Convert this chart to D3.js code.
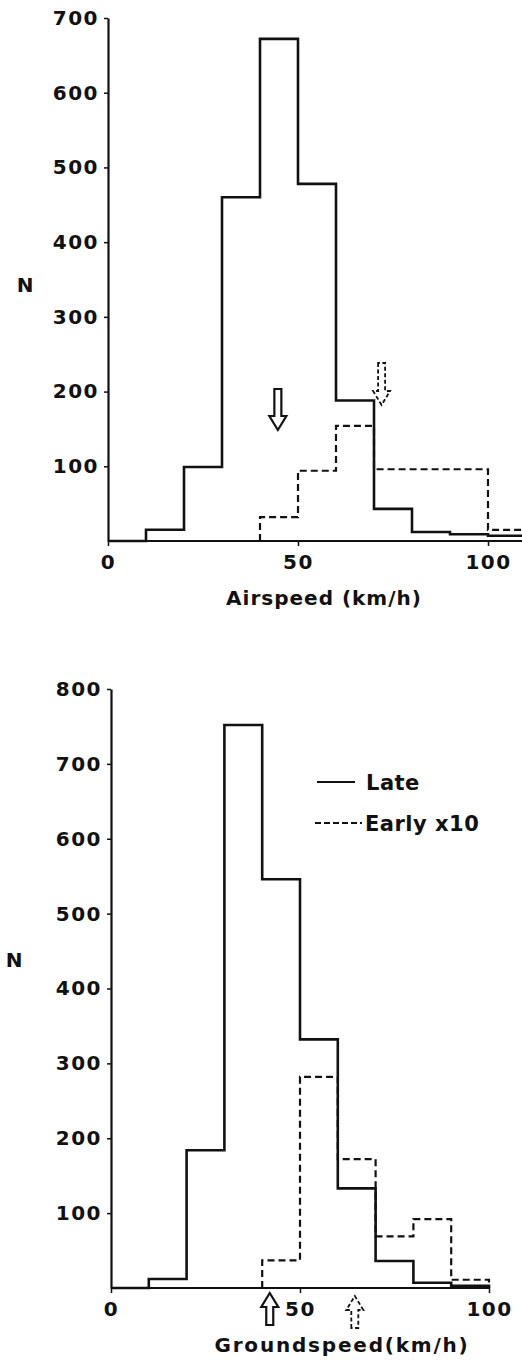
<!DOCTYPE html>
<html>
<head>
<meta charset="utf-8">
<script src="https://cdn.jsdelivr.net/npm/d3@7"></script>
<style>
  body { margin: 0; background: #fff; }
  svg text { font-family: "DejaVu Sans", sans-serif; font-weight: bold; fill: #111; }
</style>
</head>
<body>
<div id="chart"></div>
<script>
// Histograms of airspeed and groundspeed, late vs early (x10)

// --- data ---
const airEdges = [0, 10, 20, 30, 40, 50, 60, 70, 80, 90, 100, 110];
const airLate = [0, 15, 99, 460, 672, 478, 188, 43, 12, 9, 7];
const airEarlyEdges = [40, 50, 60, 70, 80, 90, 100, 110];
const airEarly = [32, 94, 154, 96, 96, 96, 15];
const airArrows = [44.7, 72]; // late mean, early mean

const gndEdges = [0, 10, 20, 30, 40, 50, 60, 70, 80, 90, 100];
const gndLate = [0, 12, 184, 752, 546, 332, 133, 36, 7, 3];
const gndEarlyEdges = [40, 50, 60, 70, 80, 90, 100];
const gndEarly = [37, 282, 172, 69, 92, 11];
const gndArrows = [42, 64.5];

const airYTicks = [100, 200, 300, 400, 500, 600, 700];
const gndYTicks = [100, 200, 300, 400, 500, 600, 700, 800];
const xTicks = [0, 50, 100];
const legendLabels = ['Late', 'Early x10'];

const W = 522, H = 1366;
const svg = d3.select('#chart').append('svg')
  .attr('width', W).attr('height', H);

// step path through bins; closes down to the baseline when asked
function stepPoints(edges, vals, closeEnd) {
  const pts = [[edges[0], 0]];
  vals.forEach((v, i) => { pts.push([edges[i], v]); pts.push([edges[i + 1], v]); });
  if (closeEnd) pts.push([edges[vals.length], 0]);
  return pts;
}

function arrowPath(cx, y0, y1, dir) {
  // hollow block arrow; dir = 1 points down, -1 points up
  const sw = 3.5, hw = 8.5, headLen = 14;
  const tip = dir === 1 ? y1 : y0;
  const tail = dir === 1 ? y0 : y1;
  const hb = tip - dir * headLen;
  return `M${cx - sw},${tail} L${cx - sw},${hb} L${cx - hw},${hb} L${cx},${tip} ` +
         `L${cx + hw},${hb} L${cx + sw},${hb} L${cx + sw},${tail} Z`;
}

function panel(o) {
  const x = d3.scaleLinear().domain([0, 100]).range(o.xr);
  const y = d3.scaleLinear().domain([0, o.ymax]).range(o.yr);
  const g = svg.append('g');

  // x axis
  const xa = g.append('g').attr('transform', `translate(0,${o.yr[0]})`)
    .call(d3.axisBottom(x).tickValues(xTicks).tickSize(5).tickSizeOuter(0).tickPadding(9));
  xa.select('.domain').remove();
  xa.selectAll('.tick line').attr('stroke', '#111').attr('stroke-width', 1.5);
  xa.selectAll('text').attr('font-size', 20).attr('letter-spacing', 1.5);
  g.append('line').attr('x1', o.xr[0]).attr('x2', o.xEnd)
    .attr('y1', o.yr[0]).attr('y2', o.yr[0])
    .attr('stroke', '#111').attr('stroke-width', 2);

  // y axis
  const ya = g.append('g').attr('transform', `translate(${o.xr[0]},0)`)
    .call(d3.axisLeft(y).tickValues(o.yTicks).tickSize(4).tickSizeOuter(0).tickPadding(5));
  ya.select('.domain').attr('stroke', '#111').attr('stroke-width', 2.2);
  ya.selectAll('.tick line').attr('stroke', '#111').attr('stroke-width', 1.5);
  ya.selectAll('text').attr('font-size', 20).attr('letter-spacing', 1.5);

  g.append('text').attr('x', o.nx).attr('y', o.ny).attr('text-anchor', 'middle')
    .attr('font-size', 20).text('N');
  g.append('text').attr('x', o.lx).attr('y', o.ly).attr('text-anchor', 'middle')
    .attr('font-size', 20).attr('letter-spacing', o.ls).text(o.label);

  const line = d3.line().x(d => x(d[0])).y(d => y(d[1]));
  g.append('path').attr('d', line(stepPoints(o.edges, o.late, o.closeLate)))
    .attr('fill', 'none').attr('stroke', '#111').attr('stroke-width', 2.6)
    .attr('stroke-linejoin', 'miter');
  g.append('path').attr('d', line(stepPoints(o.earlyEdges, o.early, o.closeEarly)))
    .attr('fill', 'none').attr('stroke', '#111').attr('stroke-width', 2.2)
    .attr('stroke-dasharray', '7,4');

  // mean arrows
  o.arrows.forEach((v, i) => {
    const a = o.arrowY[i];
    g.append('path').attr('d', arrowPath(x(v), a[0], a[1], o.dir))
      .attr('fill', '#fff').attr('stroke', '#111')
      .attr('stroke-width', i === 0 ? 2.2 : 1.8)
      .attr('stroke-dasharray', i === 0 ? null : '4,2.5');
  });
  return { x, y, g };
}

panel({
  xr: [108, 488], xEnd: W, yr: [541, 18], ymax: 700, yTicks: airYTicks,
  edges: airEdges, late: airLate, closeLate: false,
  earlyEdges: airEarlyEdges, early: airEarly, closeEarly: false,
  arrows: airArrows, arrowY: [[389, 430], [363, 405]], dir: 1,
  nx: 25, ny: 292, lx: 324, ly: 605, ls: 1, label: 'Airspeed (km/h)'
});

panel({
  xr: [111, 489], xEnd: 489, yr: [1288, 689], ymax: 800, yTicks: gndYTicks,
  edges: gndEdges, late: gndLate, closeLate: true,
  earlyEdges: gndEarlyEdges, early: gndEarly, closeEarly: true,
  arrows: gndArrows, arrowY: [[1293, 1325], [1296, 1328]], dir: -1,
  nx: 14, ny: 967, lx: 342, ly: 1352, ls: 1.8, label: 'Groundspeed(km/h)'
});

// legend
const leg = svg.append('g');
leg.append('line').attr('x1', 317).attr('x2', 355).attr('y1', 782).attr('y2', 782)
  .attr('stroke', '#111').attr('stroke-width', 2.2);
leg.append('line').attr('x1', 315).attr('x2', 362).attr('y1', 823).attr('y2', 823)
  .attr('stroke', '#111').attr('stroke-width', 1.8).attr('stroke-dasharray', '6,3');
leg.selectAll('text').data(legendLabels).enter().append('text')
  .attr('x', (d, i) => i === 0 ? 366 : 365)
  .attr('y', (d, i) => i === 0 ? 790 : 831)
  .attr('font-size', 21).attr('letter-spacing', 0.5)
  .text(d => d);
</script>
</body>
</html>
